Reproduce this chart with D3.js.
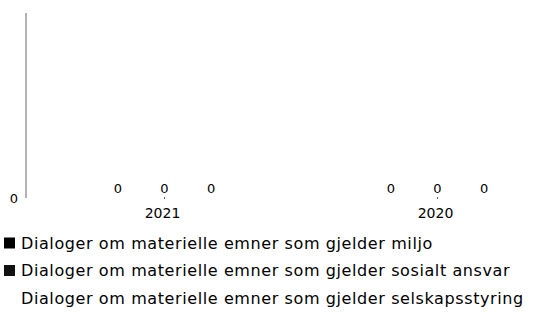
<!DOCTYPE html>
<html><head><meta charset="utf-8">
<script src="https://cdn.jsdelivr.net/npm/d3@7"></script>
<style>body{margin:0;background:#fff}svg{display:block}</style>
</head><body>
<svg id="c" width="543" height="320"></svg>
<script>
const categories = ["2021", "2020"];
const seriesNames = [
  "Dialoger om materielle emner som gjelder miljo",
  "Dialoger om materielle emner som gjelder sosialt ansvar",
  "Dialoger om materielle emner som gjelder selskapsstyring"
];
const seriesColors = ["#000000", "#111111", "#ffffff"];
const valuesMiljo = [0, 0];
const valuesSosialt = [0, 0];
const valuesSelskap = [0, 0];
const yTicks = [0];

const seriesValues = [valuesMiljo, valuesSosialt, valuesSelskap];
const font = "'DejaVu Sans', sans-serif";
const svg = d3.select("#c");
const plotTop = 13, plotBottom = 198, axisX = 26;

const x0 = d3.scaleBand().domain(categories).range([28, 574]).padding(0);
const x1 = d3.scaleBand().domain(seriesNames).range([0, x0.bandwidth()]).paddingInner(0).paddingOuter(1.43);
const y = d3.scaleLinear().domain([0, 1]).range([plotBottom, plotTop]);

// y axis line
svg.append("line").attr("x1", axisX).attr("x2", axisX)
  .attr("y1", y(1)).attr("y2", y(0)).attr("stroke", "#666").attr("stroke-width", 1);
svg.selectAll(".ytick").data(yTicks).join("text")
  .attr("x", axisX - 8).attr("y", d => y(d) + 5)
  .attr("text-anchor", "end").attr("font-family", font).attr("font-size", 13).attr("fill", "#000")
  .text(d => d);

// bars and labels
const groups = svg.selectAll(".g").data(categories).join("g")
  .attr("transform", d => `translate(${x0(d)},0)`);
groups.each(function(cat, ci) {
  const g = d3.select(this);
  seriesNames.forEach((s, si) => {
    const v = seriesValues[si][ci];
    const bx = x1(s);
    g.append("rect").attr("x", bx + 4).attr("width", x1.bandwidth() - 8)
      .attr("y", y(v)).attr("height", y(0) - y(v)).attr("fill", seriesColors[si]);
    g.append("text").attr("x", bx + x1.bandwidth() / 2).attr("y", y(v) - 5)
      .attr("text-anchor", "middle").attr("font-family", font).attr("font-size", 13).attr("fill", "#000")
      .text(v);
  });
  g.append("line").attr("x1", x0.bandwidth() / 2).attr("x2", x0.bandwidth() / 2)
    .attr("y1", plotBottom - 1).attr("y2", plotBottom + 1).attr("stroke", "#666");
  g.append("text").attr("x", x0.bandwidth() / 2 - 2).attr("y", plotBottom + 20)
    .attr("text-anchor", "middle").attr("font-family", font).attr("font-size", 14).attr("fill", "#000")
    .text(cat);
});

// legend
const legend = svg.selectAll(".leg").data(seriesNames).join("g")
  .attr("transform", (d, i) => `translate(4,${243 + i * 27.5})`);
legend.append("rect").attr("x", 0).attr("y", -5.5).attr("width", 11).attr("height", 11)
  .attr("fill", (d, i) => seriesColors[i]);
legend.append("text").attr("x", 17).attr("y", 5.5)
  .attr("font-family", font).attr("font-size", 16).attr("letter-spacing", 0.6).attr("fill", "#000")
  .text(d => d);
</script>
</body></html>
